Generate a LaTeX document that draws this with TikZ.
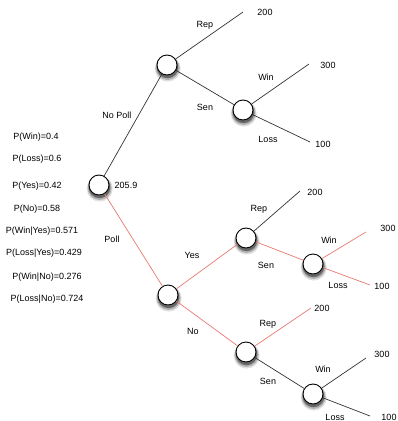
\documentclass[tikz,border=0pt]{standalone}
\usepackage{fontspec}
\setmainfont{Liberation Sans}
\definecolor{pollred}{RGB}{228,122,112}
\begin{document}
\begin{tikzpicture}[x=1pt,y=-1pt,
  decision/.style={circle,draw=black,line width=0.9pt,fill=white,minimum size=20pt,inner sep=0pt},
  shadowring/.style={fill=black!#1},
  branch/.style={line width=0.7pt,draw=black!80},
  polled/.style={line width=0.7pt,draw=pollred},
  lbl/.style={inner sep=0pt,font=\fontsize{9}{10}\selectfont},
]
\useasboundingbox (0,0) rectangle (398,421);

% decision points, each with a soft shadow underneath
\foreach \n/\px/\py in {root/99/185, np/167/65, npsen/243/110, poll/168/295,
                        yes/246/238, yeswin/313/264, no/246/352, nowin/313/394}{
  \fill[shadowring=12] ([shift={(0.7,3.6)}]\px,\py) circle (13pt);
  \fill[shadowring=30] ([shift={(0.6,3.0)}]\px,\py) circle (12pt);
  \fill[shadowring=60] ([shift={(0.5,2.4)}]\px,\py) circle (10.8pt);
  \node[decision] (\n) at (\px,\py) {};
}

% leaf ends
\coordinate (e1) at (243,12);
\coordinate (e2) at (309,64);
\coordinate (e3) at (310,142);
\coordinate (e4) at (300,191);
\coordinate (e5) at (366,232);
\coordinate (e6) at (370,285);
\coordinate (e7) at (311,308);
\coordinate (e8) at (366,358);
\coordinate (e9) at (370,416);

% no-poll branch
\draw[branch] (root) -- (np);
\draw[branch] (np) -- (e1);
\draw[branch] (np) -- (npsen);
\draw[branch] (npsen) -- (e2);
\draw[branch] (npsen) -- (e3);

% poll branch
\draw[polled] (root) -- (poll);
\draw[polled] (poll) -- (yes);
\draw[branch] (yes) -- (e4);
\draw[polled] (yes) -- (yeswin);
\draw[polled] (yeswin) -- (e5);
\draw[polled] (yeswin) -- (e6);
\draw[polled] (poll) -- (no);
\draw[polled] (no) -- (e7);
\draw[branch] (no) -- (nowin);
\draw[branch] (nowin) -- (e8);
\draw[branch] (nowin) -- (e9);

% payoffs
\node[lbl] (v1) at (265,12) {200};
\node[lbl] (v2) at (328,65) {300};
\node[lbl] (v3) at (323,144) {100};
\node[lbl] (v4) at (315,192) {200};
\node[lbl] (v5) at (388,228) {300};
\node[lbl] (v6) at (382,286) {100};
\node[lbl] (v7) at (322,308) {200};
\node[lbl] (v8) at (382,354) {300};
\node[lbl] (v9) at (389,417) {100};
\node[lbl] (ev) at (126,185) {205.9};

% branch labels
\node[lbl] (l1)  at (205,25)  {Rep};
\node[lbl] (l2)  at (205,107) {Sen};
\node[lbl] (l3)  at (266,77)  {Win};
\node[lbl] (l4)  at (268,139) {Loss};
\node[lbl] (l5)  at (117,115) {No Poll};
\node[lbl] (l6)  at (112,239) {Poll};
\node[lbl] (l7)  at (192,255) {Yes};
\node[lbl] (l8)  at (259,209) {Rep};
\node[lbl] (l9)  at (266,265) {Sen};
\node[lbl] (l10) at (329,240) {Win};
\node[lbl] (l11) at (338,285) {Loss};
\node[lbl] (l12) at (193,331) {No};
\node[lbl] (l13) at (268,324) {Rep};
\node[lbl] (l14) at (268,381) {Sen};
\node[lbl] (l15) at (323,369) {Win};
\node[lbl] (l16) at (335,417) {Loss};

% probabilities
\node[lbl] (p1) at (36,137) {P(Win)=0.4};
\node[lbl] (p2) at (37,159) {P(Loss)=0.6};
\node[lbl] (p3) at (37,186) {P(Yes)=0.42};
\node[lbl] (p4) at (37,209) {P(No)=0.58};
\node[lbl] (p5) at (42,231) {P(Win|Yes)=0.571};
\node[lbl] (p6) at (44,253) {P(Loss|Yes)=0.429};
\node[lbl] (p7) at (47,277) {P(Win|No)=0.276};
\node[lbl] (p8) at (47,299) {P(Loss|No)=0.724};
\end{tikzpicture}
\end{document}
